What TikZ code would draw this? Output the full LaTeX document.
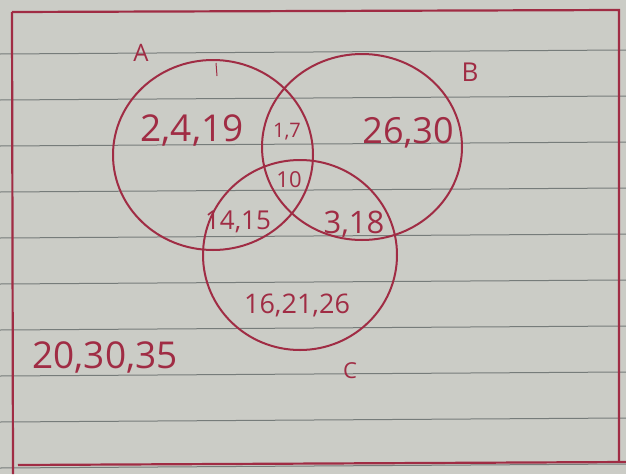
\documentclass[tikz,border=0pt]{standalone}
\usepackage{fontspec}
\setmainfont{Open Sans}
\usetikzlibrary{shapes.geometric}
\definecolor{paper}{HTML}{CBCCC6}
\definecolor{ink}{HTML}{A02C44}
\definecolor{rule}{HTML}{767C7A}
\newcommand{\fs}[1]{\fontsize{#1}{#1}\selectfont}
\tikzset{
  setc/.style={ellipse, draw=ink, line width=2pt, inner sep=0pt, outer sep=0pt},
  txt/.style={text=ink, inner sep=1pt},
  ruled/.style={draw=rule, line width=1pt},
  frame/.style={draw=ink, line width=2.2pt}
}
\begin{document}
\begin{tikzpicture}[x=1pt,y=-1pt]
\useasboundingbox (0,0) rectangle (626,474);
\fill[paper] (0,0) rectangle (626,474);
% ruled lines
\foreach \yy in {54,100,146,192,238,284,330,376,422,468}
  \draw[ruled] (0,\yy) -- (626,\yy-4);
% frame
\coordinate (TL) at (12,12);
\coordinate (TR) at (619,10);
\coordinate (BR) at (619,462);
\coordinate (BL) at (18,465);
\coordinate (LB) at (13,474);
\coordinate (BRR) at (626,462);
\draw[frame] (TL) -- (TR) -- (BR);
\draw[frame] (TL) -- (LB);
\draw[frame] (BL) -- (BRR);
% sets
\node[setc, minimum width=200pt, minimum height=190pt] (A) at (213,155) {};
\node[setc, minimum width=200pt, minimum height=186pt] (B) at (362,147) {};
\node[setc, minimum width=194pt, minimum height=190pt] (C) at (300,255) {};
% stray pen strokes
\coordinate (s1) at (216,63);
\coordinate (s2) at (217,76);
\draw[ink, line width=1pt] (s1) -- (s2);
% labels
\node[txt, font=\fs{24}] (la) at (141,53) {A};
\node[txt, font=\fs{26}] (lb) at (470,72) {B};
\node[txt, font=\fs{22}] (lc) at (350,371) {C};
% elements
\node[txt, font=\fs{37}] (a) at (192,130) {2,4,19};
\node[txt, font=\fs{20}] (ab) at (287,132) {1,7};
\node[txt, font=\fs{36}] (b) at (408,133) {26,30};
\node[txt, font=\fs{22}] (abc) at (289,180) {10};
\node[txt, font=\fs{26}] (ac) at (238,222) {14,15};
\node[txt, font=\fs{31}] (bc) at (354,224) {3,18};
\node[txt, font=\fs{27}] (c) at (297,305) {16,21,26};
\node[txt, font=\fs{37}] (u) at (105,357) {20,30,35};
\end{tikzpicture}
\end{document}
